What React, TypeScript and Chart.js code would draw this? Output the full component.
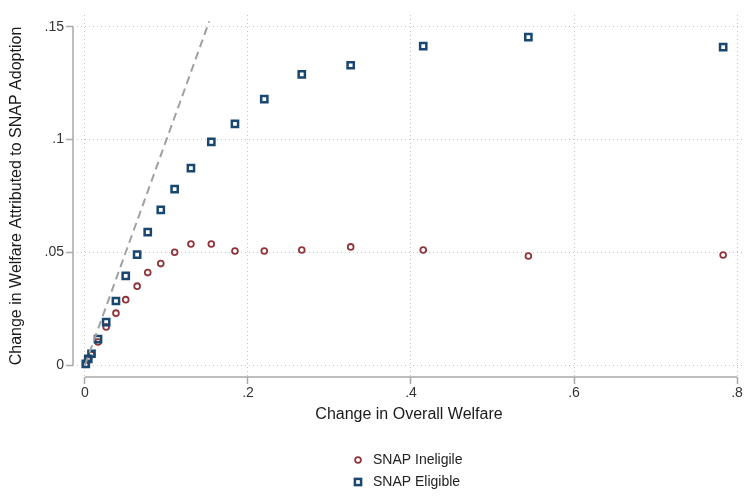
import React, { useEffect, useRef } from "react";
import { Chart, registerables } from "chart.js";

Chart.register(...registerables);

// Shared x values (change in overall welfare) for both groups
const overallWelfare = [
  0.001, 0.004, 0.008, 0.016, 0.026, 0.038, 0.05, 0.064, 0.077, 0.093,
  0.11, 0.13, 0.155, 0.184, 0.22, 0.266, 0.326, 0.415, 0.544, 0.783,
];

// Change in welfare attributed to SNAP adoption
const ineligibleValues = [
  0.0003, 0.0022, 0.0045, 0.0102, 0.0169, 0.023, 0.029, 0.035, 0.041, 0.045,
  0.05, 0.0537, 0.0537, 0.0506, 0.0506, 0.051, 0.0524, 0.051, 0.0484, 0.0488,
];
const eligibleValues = [
  0.0005, 0.0027, 0.005, 0.0115, 0.019, 0.0284, 0.0395, 0.049, 0.059, 0.0688,
  0.078, 0.0874, 0.099, 0.107, 0.118, 0.129, 0.133, 0.1415, 0.1455, 0.141,
];

// 45-degree reference line endpoints
const refLineX = [0, 0.1525];
const refLineY = [0, 0.1525];

const xTickValues = [0, 0.2, 0.4, 0.6, 0.8];
const xTickLabels = ["0", ".2", ".4", ".6", ".8"];
const yTickValues = [0, 0.05, 0.1, 0.15];
const yTickLabels = ["0", ".05", ".1", ".15"];

const seriesNames = ["SNAP Ineligile", "SNAP Eligible"];
const xTitle = "Change in Overall Welfare";
const yTitle = "Change in Welfare Attributed to SNAP Adoption";

const NAVY = "#1a476f";
const MAROON = "#90353b";
const AXIS = "#a8a8a8";
const GRID = "#c4c4c4";
const FONT = "'Liberation Sans', Arial, sans-serif";

const axisLinesAndLegend = {
  id: "axisLinesAndLegend",
  afterDraw(chart: any) {
    const { ctx, chartArea, scales } = chart;
    const xs = scales.x;
    const ys = scales.y;
    ctx.save();
    ctx.strokeStyle = AXIS;
    ctx.lineWidth = 1.5;
    ctx.setLineDash([]);
    // y axis line spans the tick range only
    ctx.beginPath();
    ctx.moveTo(chartArea.left, ys.getPixelForValue(yTickValues[yTickValues.length - 1]));
    ctx.lineTo(chartArea.left, ys.getPixelForValue(yTickValues[0]));
    ctx.stroke();
    // x axis line
    ctx.beginPath();
    ctx.moveTo(xs.getPixelForValue(xTickValues[0]), chartArea.bottom);
    ctx.lineTo(xs.getPixelForValue(xTickValues[xTickValues.length - 1]), chartArea.bottom);
    ctx.stroke();

    // legend, stacked vertically below the x title
    const mx = 358;
    const tx = 373;
    const rows = [460, 482];
    ctx.font = `14px ${FONT}`;
    ctx.textBaseline = "middle";
    ctx.textAlign = "left";
    ctx.fillStyle = "#222";
    // circle marker
    ctx.strokeStyle = MAROON;
    ctx.lineWidth = 1.8;
    ctx.beginPath();
    ctx.arc(mx, rows[0], 2.9, 0, Math.PI * 2);
    ctx.stroke();
    ctx.fillText(seriesNames[0], tx, rows[0]);
    // square marker
    ctx.strokeStyle = NAVY;
    ctx.lineWidth = 2.5;
    ctx.strokeRect(mx - 3.1, rows[1] - 3.1, 6.2, 6.2);
    ctx.fillText(seriesNames[1], tx, rows[1]);
    ctx.restore();
  },
};

export default function App() {
  const canvasRef = useRef<HTMLCanvasElement | null>(null);

  useEffect(() => {
    if (!canvasRef.current) return;
    Chart.defaults.font.family = FONT;

    const chart = new Chart(canvasRef.current, {
      type: "scatter",
      data: {
        datasets: [
          {
            label: "45-degree line",
            data: refLineX.map((x, i) => ({ x, y: refLineY[i] })),
            showLine: true,
            borderColor: "#a0a0a0",
            borderWidth: 2,
            borderDash: [8, 5],
            pointRadius: 0,
            order: 0,
          },
          {
            label: seriesNames[1],
            data: overallWelfare.map((x, i) => ({ x, y: eligibleValues[i] })),
            pointStyle: "rect",
            pointRadius: 4.4,
            borderWidth: 2.5,
            borderColor: NAVY,
            backgroundColor: "rgba(255,255,255,0)",
            order: 1,
          },
          {
            label: seriesNames[0],
            data: overallWelfare.map((x, i) => ({ x, y: ineligibleValues[i] })),
            pointStyle: "circle",
            pointRadius: 2.9,
            borderWidth: 1.8,
            borderColor: MAROON,
            backgroundColor: "rgba(255,255,255,0)",
            order: 2,
          },
        ],
      },
      options: {
        responsive: false,
        animation: false,
        devicePixelRatio: 1,
        layout: { autoPadding: false, padding: { top: 15, left: 0, right: 0, bottom: 0 } },
        plugins: {
          legend: { display: false },
          tooltip: { enabled: false },
          title: { display: false },
        },
        scales: {
          x: {
            type: "linear",
            min: -0.0147,
            max: 0.8098,
            afterBuildTicks: (scale: any) => {
              scale.ticks = xTickValues.map((v) => ({ value: v }));
            },
            afterFit: (scale: any) => {
              scale.height = 119;
              scale.paddingLeft = 0;
              scale.paddingRight = 0;
            },
            ticks: {
              color: "#333",
              font: { size: 14, family: FONT },
              padding: 1,
              maxRotation: 0,
              autoSkip: false,
              callback: (v: any) => {
                const i = xTickValues.findIndex((t) => Math.abs(t - Number(v)) < 1e-9);
                return i >= 0 ? xTickLabels[i] : "";
              },
            },
            grid: {
              color: GRID,
              lineWidth: 1,
              tickLength: 7,
              tickColor: AXIS,
              tickWidth: 1.5,
            },
            border: { display: false, dash: [1, 3] },
            title: {
              display: true,
              text: xTitle,
              color: "#1a1a1a",
              font: { size: 16, family: FONT },
              padding: { top: 0, bottom: 72 },
            },
          },
          y: {
            type: "linear",
            min: -0.00532,
            max: 0.1553,
            afterBuildTicks: (scale: any) => {
              scale.ticks = yTickValues.map((v) => ({ value: v }));
            },
            afterFit: (scale: any) => {
              scale.width = 73;
              scale.paddingTop = 0;
              scale.paddingBottom = 0;
            },
            ticks: {
              color: "#333",
              font: { size: 14, family: FONT },
              padding: 2,
              autoSkip: false,
              callback: (v: any) => {
                const i = yTickValues.findIndex((t) => Math.abs(t - Number(v)) < 1e-9);
                return i >= 0 ? yTickLabels[i] : "";
              },
            },
            grid: {
              color: GRID,
              lineWidth: 1,
              tickLength: 7,
              tickColor: AXIS,
              tickWidth: 1.5,
            },
            border: { display: false, dash: [1, 3] },
            title: {
              display: true,
              text: yTitle,
              color: "#1a1a1a",
              font: { size: 16, family: FONT },
              padding: { top: 7.4, bottom: 0 },
            },
          },
        },
      },
      plugins: [axisLinesAndLegend],
    } as any);

    return () => chart.destroy();
  }, []);

  return (
    <div style={{ position: "absolute", left: 0, top: 0, width: 745, height: 496, background: "#fff" }}>
      <canvas ref={canvasRef} width={745} height={496} />
    </div>
  );
}
